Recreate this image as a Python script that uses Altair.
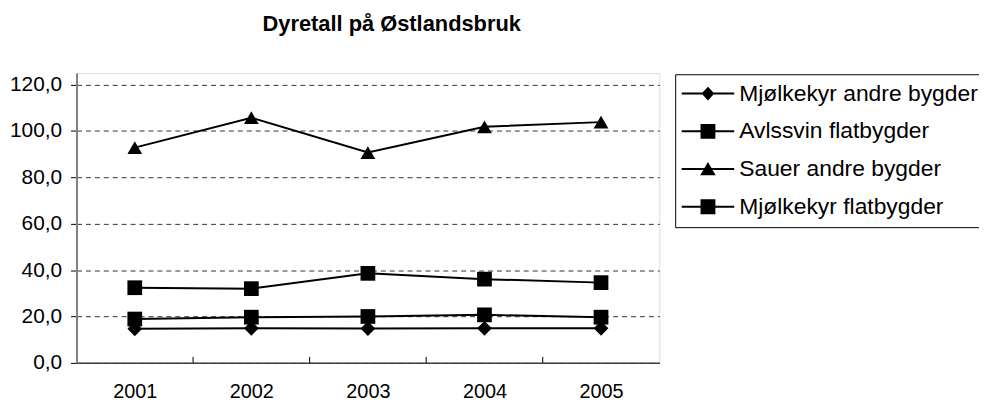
import altair as alt
import pandas as pd

years = ["2001", "2002", "2003", "2004", "2005"]
series = ["Mjølkekyr andre bygder", "Avlssvin flatbygder", "Sauer andre bygder", "Mjølkekyr flatbygder"]
mjolk_andre = [14.7, 14.9, 14.8, 14.9, 14.9]
avlssvin = [32.4, 32.0, 38.6, 36.1, 34.6]
sauer = [92.8, 105.7, 90.7, 101.8, 103.8]
mjolk_flat = [18.9, 19.7, 20.0, 20.7, 19.7]
shapes = ["diamond", "square", "triangle-up", "square"]
# legend symbols: a line with the marker on it (unit = 11.5 px)
LINE = "M-2.3,-0.087H2.3V0.087H-2.3Z"
legend_shapes = [
    LINE + "M-0.56,0L0,-0.6L0.56,0L0,0.6Z",
    LINE + "M-0.65,-0.65H0.65V0.65H-0.65Z",
    LINE + "M0,-0.62L0.68,0.55H-0.68Z",
    LINE + "M-0.65,-0.65H0.65V0.65H-0.65Z",
]
y_ticks = [0, 20, 40, 60, 80, 100, 120]
boundary_years = years[:-1]

rows = []
for s, vals in zip(series, [mjolk_andre, avlssvin, sauer, mjolk_flat]):
    for yr, v in zip(years, vals):
        rows.append({"year": yr, "serie": s, "value": v})
df = pd.DataFrame(rows)
tick_df = pd.DataFrame({"year": boundary_years})

FONT = "Liberation Sans"
W, H = 587, 292

x = alt.X("year:N", title=None,
          scale=alt.Scale(type="point", padding=0.5, domain=years),
          axis=alt.Axis(ticks=False, labelAngle=0, labelPadding=19, labelFontSize=20,
                        labelFont=FONT, labelColor="black",
                        domainColor="#404040", domainWidth=1.5, grid=False))
y = alt.Y("value:Q", title=None,
          scale=alt.Scale(domain=[0, 125], nice=False, zero=True),
          axis=alt.Axis(values=y_ticks,
                        labelExpr="replace(format(datum.value, '.1f'), '.', ',')",
                        grid=True, gridDash=[5, 4], gridColor="#333333", gridWidth=1,
                        tickSize=6, tickColor="black", labelPadding=9,
                        labelFont=FONT, labelColor="black", labelFontSize=21,
                        domainColor="#808080", domainWidth=2))

lines = alt.Chart(df).mark_line(strokeWidth=2, color="black").encode(
    x=x, y=y, detail="serie:N",
)

points = alt.Chart(df).mark_point(filled=True, color="black", opacity=1, size=220).encode(
    x=x, y=y,
    shape=alt.Shape("serie:N", scale=alt.Scale(domain=series, range=shapes), legend=None),
)

legend_layer = alt.Chart(df).mark_point(filled=True, color="black", opacity=0).encode(
    x=x, y=y,
    shape=alt.Shape("serie:N", scale=alt.Scale(domain=series, range=legend_shapes),
                    legend=alt.Legend(orient="none", title=None, legendX=603, legendY=1.3,
                                      labelFont=FONT, labelFontSize=23, labelColor="black",
                                      labelLimit=500, padding=8, rowPadding=14,
                                      symbolSize=529, symbolOpacity=1,
                                      symbolFillColor="black", symbolStrokeColor="black",
                                      symbolStrokeWidth=0, symbolOffset=13.5, labelOffset=20,
                                      strokeColor="black")),
)

ticks = alt.Chart(tick_df).mark_rule(color="black", strokeWidth=1, xOffset=W / 10).encode(
    x=x, y=alt.value(H), y2=alt.value(H - 6)
)

chart = alt.layer(lines, points, legend_layer, ticks).resolve_scale(shape="independent").properties(
    width=W, height=H,
    padding={"left": 69, "top": 64, "right": 322, "bottom": 40},
    autosize=alt.AutoSizeParams(type="none"),
    title=alt.TitleParams("Dyretall på Østlandsbruk", font=FONT, fontSize=22,
                          fontWeight="bold", color="black", anchor="middle", dx=24, dy=-33),
).configure_view(stroke="#808080", strokeWidth=2).configure(background="white")

chart.save("out.html", embed_options={"renderer": "svg", "actions": False})
